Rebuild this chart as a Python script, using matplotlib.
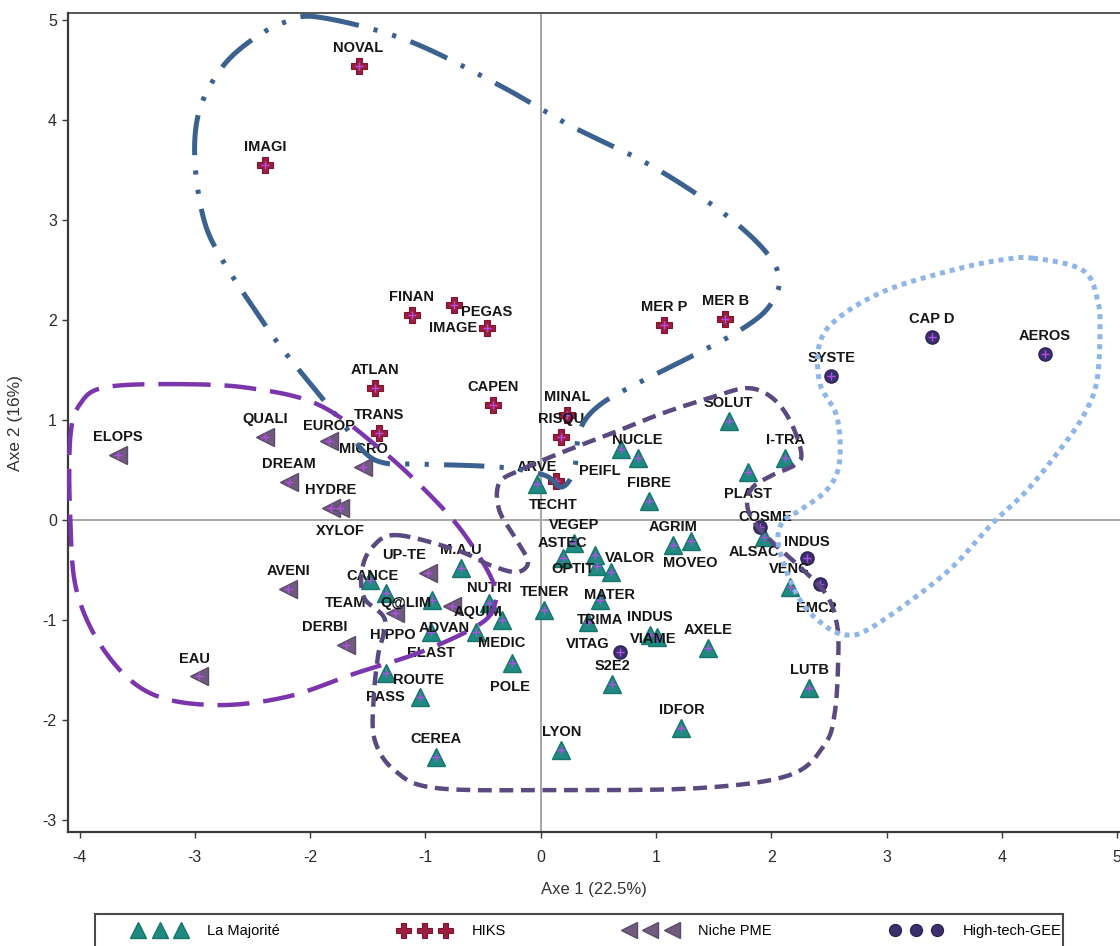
import numpy as np
import matplotlib
matplotlib.use("Agg")
import matplotlib.pyplot as plt
from matplotlib.lines import Line2D
from matplotlib.patches import Rectangle
from matplotlib import font_manager

# --- coordinates on the first two axes, one list per group ---
maj_names = ["SOLUT", "I-TRA", "PLAST", "NUCLE", "PEIFL", "FIBRE", "TECHT", "VEGEP",
             "ASTEC", "OPTIT", "VALOR", "", "AGRIM", "MOVEO", "ALSAC", "VENC", "LUTB",
             "AXELE", "IDFOR", "LYON", "S2E2", "INDUS", "VIAME", "TRIMA", "MATER",
             "TENER", "POLE", "MEDIC", "NUTRI", "ADVAN", "ELAST", "Q@LIM", "TEAM",
             "CANCE", "M.A.U", "ROUTE", "PASS", "CEREA"]
maj_x = [1.63, 2.12, 1.80, 0.84, 0.70, 0.94, -0.03, 0.29,
         0.19, 0.49, 0.61, 0.47, 1.15, 1.30, 1.94, 2.16, 2.33,
         1.45, 1.22, 0.18, 0.62, 0.95, 1.01, 0.41, 0.51,
         0.03, -0.25, -0.34, -0.45, -0.56, -0.95, -0.94, -1.34,
         -1.48, -0.69, -1.34, -1.05, -0.91]
maj_y = [0.99, 0.62, 0.48, 0.62, 0.71, 0.19, 0.36, -0.23,
         -0.38, -0.46, -0.52, -0.35, -0.25, -0.21, -0.17, -0.67, -1.68,
         -1.28, -2.08, -2.30, -1.64, -1.15, -1.17, -1.02, -0.80,
         -0.90, -1.43, -1.00, -0.83, -1.12, -1.12, -0.80, -0.73,
         -0.60, -0.48, -1.53, -1.77, -2.37]

hiks_names = ["NOVAL", "IMAGI", "FINAN", "PEGAS", "IMAGE", "ATLAN", "CAPEN",
              "TRANS", "MINAL", "RISQU", "ARVE", "MER P", "MER B"]
hiks_x = [-1.58, -2.39, -1.12, -0.75, -0.47, -1.44, -0.41,
          -1.40, 0.23, 0.18, 0.13, 1.07, 1.60]
hiks_y = [4.54, 3.55, 2.05, 2.15, 1.92, 1.32, 1.15,
          0.87, 1.05, 0.83, 0.39, 1.95, 2.01]

niche_names = ["ELOPS", "QUALI", "EUROP", "MICRO", "DREAM", "HYDRE", "XYLOF",
               "AVENI", "DERBI", "EAU", "UP-TE", "HIPPO", "AQUIM"]
niche_x = [-3.67, -2.39, -1.84, -1.54, -2.18, -1.82, -1.74,
           -2.19, -1.69, -2.96, -0.98, -1.26, -0.77]
niche_y = [0.65, 0.83, 0.79, 0.53, 0.38, 0.12, 0.12,
           -0.69, -1.25, -1.56, -0.53, -0.93, -0.86]

ht_names = ["CAP D", "AEROS", "SYSTE", "COSME", "INDUS", "EMC2", "VITAG"]
ht_x = [3.39, 4.37, 2.52, 1.90, 2.31, 2.42, 0.69]
ht_y = [1.83, 1.66, 1.44, -0.07, -0.38, -0.64, -1.32]

# outlines drawn around each group (points of a closed smooth curve)
hiks_hull_x = [-1.92, -1.16, -0.36, 0.25, 0.95, 1.55, 1.94, 2.07, 1.97, 1.73, 1.38,
               0.86, 0.51, 0.34, 0.29, 0.18, 0.03, -0.36, -1.05, -1.35, -1.53,
               -1.74, -2.20, -2.46, -2.76, -2.92, -3.00, -2.96, -2.77, -2.51, -2.22]
hiks_hull_y = [5.03, 4.80, 4.35, 3.95, 3.55, 3.10, 2.70, 2.40, 2.12, 1.90, 1.68,
               1.38, 1.15, 0.90, 0.50, 0.33, 0.45, 0.53, 0.56, 0.57, 0.68,
               1.00, 1.65, 2.07, 2.60, 3.00, 3.60, 4.10, 4.52, 4.80, 4.98]

niche_hull_x = [-3.14, -2.52, -1.92, -1.38, -0.96, -0.67, -0.42, -0.40, -0.54,
                -1.04, -1.60, -2.21, -2.84, -3.39, -3.77, -4.02, -4.08, -4.08,
                -3.99, -3.77]
niche_hull_y = [1.36, 1.32, 1.15, 0.70, 0.25, -0.13, -0.60, -0.85, -1.05,
                -1.32, -1.53, -1.77, -1.85, -1.73, -1.33, -0.73, 0.00, 0.83,
                1.17, 1.33]

maj_hull_x = [-1.25, -0.73, -0.44, -0.21, -0.11, -0.21, -0.36, -0.36, -0.18, 0.19,
              0.62, 1.06, 1.49, 1.79, 2.00, 2.16, 2.26, 2.20, 2.01, 1.84, 1.79,
              1.84, 1.99, 2.25, 2.48, 2.57, 2.58, 2.55, 2.46, 2.16, 1.38, 0.16,
              -0.91, -1.27, -1.44, -1.45, -1.41, -1.35, -1.53, -1.55, -1.46]
maj_hull_y = [-0.15, -0.30, -0.45, -0.52, -0.42, -0.20, 0.10, 0.37, 0.50, 0.68,
              0.87, 1.07, 1.23, 1.32, 1.23, 1.00, 0.67, 0.55, 0.45, 0.33, 0.17,
              0.00, -0.20, -0.47, -0.75, -1.05, -1.40, -1.93, -2.25, -2.55, -2.68,
              -2.70, -2.68, -2.50, -2.20, -1.80, -1.35, -1.00, -0.78, -0.50, -0.27]

ht_hull_x = [4.27, 4.70, 4.83, 4.85, 4.82, 4.70, 4.50, 4.22, 3.92, 3.57, 3.18,
             2.83, 2.66, 2.48, 2.25, 2.07, 2.09, 2.25, 2.48, 2.59, 2.57, 2.42,
             2.42, 2.59, 3.00, 3.57, 3.98]
ht_hull_y = [2.62, 2.50, 2.20, 1.87, 1.37, 1.03, 0.70, 0.30, -0.03, -0.47, -0.83,
             -1.10, -1.15, -1.07, -0.80, -0.30, -0.03, 0.10, 0.30, 0.57, 1.03, 1.37,
             1.77, 2.03, 2.30, 2.50, 2.60]

# label placement (offset pixels from the marker); default is just above
DEFAULT_OFF = (0, 18)
label_off = {
    "PLAST": (0, -22), "PEIFL": (-22, -22), "TECHT": (16, -21), "OPTIT": (-24, -3),
    "VALOR": (19, 14), "MOVEO": (0, -22), "ALSAC": (-10, -15), "VIAME": (-4, -2),
    "TRIMA": (12, 2), "MATER": (10, 5), "POLE": (-2, -24), "MEDIC": (0, -23),
    "NUTRI": (0, 15), "ADVAN": (-32, 4), "ELAST": (0, -21), "Q@LIM": (-26, -3),
    "TEAM": (-41, -10), "CANCE": (2, 4), "ROUTE": (32, -7), "PASS": (-34, 0),
    "PEGAS": (32, -7), "IMAGE": (-33, 0), "ARVE": (-19, 14),
    "EUROP": (0, 15), "XYLOF": (0, -23), "DERBI": (-21, 18), "EAU": (-5, 17),
    "UP-TE": (-24, 18), "HIPPO": (-3, -22), "AQUIM": (26, -6),
    "COSME": (5, 10), "INDUS_ht": (0, 16), "EMC2": (-3, -24), "VITAG": (-33, 8),
    "ASTEC": (0, 15),
}

names = {f.name for f in font_manager.fontManager.ttflist}
narrow = "Liberation Sans Narrow" if "Liberation Sans Narrow" in names else "Liberation Sans"
plt.rcParams["font.family"] = ["Liberation Sans", "DejaVu Sans"]
plt.rcParams["lines.scale_dashes"] = False
plt.rcParams["axes.unicode_minus"] = False


def closed_spline(xs, ys, n=24):
    p = np.column_stack([xs, ys])
    P = np.vstack([p[-1], p, p[0], p[1]])
    t = np.linspace(0, 1, n, endpoint=False)[:, None]
    out = []
    for i in range(1, len(p) + 1):
        p0, p1, p2, p3 = P[i - 1], P[i], P[i + 1], P[i + 2]
        seg = 0.5 * (2 * p1 + (-p0 + p2) * t + (2 * p0 - 5 * p1 + 4 * p2 - p3) * t ** 2
                     + (-p0 + 3 * p1 - 3 * p2 + p3) * t ** 3)
        out.append(seg)
    out.append(p[:1])
    c = np.vstack(out)
    return c[:, 0], c[:, 1]


W, H = 1120, 946
fig = plt.figure(figsize=(W / 100, H / 100), dpi=100)
ax = fig.add_axes([0.0607, 0.1205, 0.9393, 0.8655])
ax.set_xlim(-4.10, 5.024)
ax.set_ylim(-3.12, 5.07)

ax.axhline(0, color="#a6a6a6", lw=1.4, zorder=1)
ax.axvline(0, color="#a6a6a6", lw=1.4, zorder=1)

groups = [
    (maj_names, maj_x, maj_y, dict(marker="^", ms=12.5, mfc="#1f8a80", mec="#17756c", mew=1.0), "La Majorité"),
    (hiks_names, hiks_x, hiks_y, dict(marker="P", ms=12, mfc="#9c1e3e", mec="#7e1430", mew=0.8), "HIKS"),
    (niche_names, niche_x, niche_y, dict(marker="<", ms=12.5, mfc="#6f5b7d", mec="#5e4b6b", mew=1.0), "Niche PME"),
    (ht_names, ht_x, ht_y, dict(marker="o", ms=9.5, mfc="#3c2f6d", mec="#2e2358", mew=1.0), "High-tech-GEE"),
]

handles = []
for nm, xs, ys, style, lab in groups:
    ax.plot(xs, ys, linestyle="none", zorder=3, **style)
    ax.plot(xs, ys, linestyle="none", marker="+", ms=6, mec="#b34ee8", mew=1.0, zorder=3.2)
    handles.append(Line2D([], [], linestyle="none", **style))
    for name, x, y in zip(nm, xs, ys):
        if not name:
            continue
        key = name + "_ht" if (nm is ht_names and name == "INDUS") else name
        dx, dy = label_off.get(key, DEFAULT_OFF)
        ax.annotate(name, (x, y), xytext=(dx, dy), textcoords="offset pixels",
                    ha="center", va="center", fontsize=10.5, fontweight="bold",
                    color="#151515", zorder=4)

# group outlines
hulls = [
    (hiks_hull_x, hiks_hull_y, "#3b618f", 3.6, (0, (29, 11, 3, 11, 3, 11))),
    (niche_hull_x, niche_hull_y, "#7b36ad", 3.2, (0, (23, 10))),
    (maj_hull_x, maj_hull_y, "#5b4a80", 3.2, (0, (10, 5.5))),
    (ht_hull_x, ht_hull_y, "#8fb6e6", 3.6, (0, (3.6, 3.6))),
]
for hx, hy, col, lw, ls in hulls:
    cx, cy = closed_spline(hx, hy)
    ax.plot(cx, cy, color=col, lw=lw, linestyle=ls, zorder=5, clip_on=False)

ax.spines["right"].set_visible(False)
for s in ("left", "bottom", "top"):
    ax.spines[s].set_color("#3a3a3a")
    ax.spines[s].set_linewidth(1.6)
ax.spines["top"].set_linewidth(1.2)
ax.set_xticks(range(-4, 6))
ax.set_yticks(range(-3, 6))
ax.tick_params(direction="out", length=4, width=1, color="#3a3a3a",
               labelsize=11.5, labelcolor="#2a2a2a")
ax.tick_params(axis="y", pad=4)
ax.tick_params(axis="x", pad=9)
for t in ax.get_xticklabels() + ax.get_yticklabels():
    t.set_family(narrow)
ax.set_xlabel("Axe 1 (22.5%)", fontsize=12, family=narrow, color="#333333", labelpad=12)
ax.set_ylabel("Axe 2 (16%)", fontsize=12.5, family=narrow, color="#333333", labelpad=14)

# legend box running off the bottom edge, entries laid out inside it
fig.patches.append(Rectangle((95 / W, -6 / H), 968 / W, 38 / H, transform=fig.transFigure,
                             fill=False, edgecolor="#4a4a4a", lw=1.5))
fig.legend(handles, [g[4] for g in groups], loc="center left",
           bbox_to_anchor=(134 / W, 15 / H, 928 / W, 0.0), mode="expand",
           ncol=4, numpoints=3, frameon=False, borderpad=0, borderaxespad=0,
           prop={"family": narrow, "size": 10.5},
           handlelength=3.5, handletextpad=1.5, markerscale=0.9)

fig.savefig("out.png", dpi=100)
